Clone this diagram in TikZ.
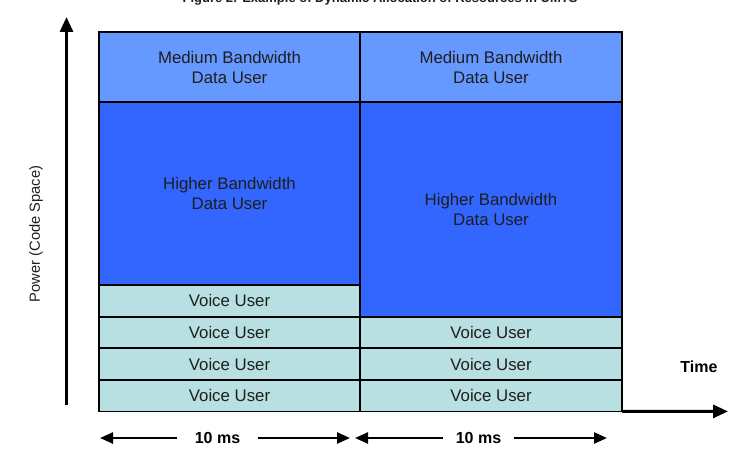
\documentclass[tikz,border=0pt]{standalone}
\usepackage{fontspec}
\setmainfont{Liberation Sans}
\usetikzlibrary{arrows.meta}
\definecolor{medblue}{HTML}{6699FF}
\definecolor{hiblue}{HTML}{3366FF}
\definecolor{voicecol}{HTML}{B8DFE1}
\definecolor{txt}{HTML}{1E1E1E}
\begin{document}
\begin{tikzpicture}[x=1pt,y=-1pt,
  cell/.style={draw=black, line width=1.8pt, inner sep=0pt, align=center,
    text=txt, font=\fontsize{16.8}{20}\selectfont, minimum width=#1},
  cell/.default=261,
  med/.style={fill=medblue, minimum height=70},
  hi/.style={fill=hiblue},
  voice/.style={fill=voicecol, minimum height=31.6},
  axis/.style={line width=3pt, -{Triangle[length=15pt,width=13pt]}},
  msarrow/.style={line width=2.4pt, -{Triangle[length=13pt,width=11pt]}},
  lbl/.style={font=\bfseries\fontsize{16}{19}\selectfont, text=black},
  mslbl/.style={lbl, inner ysep=0pt, inner xsep=#1},
]
\useasboundingbox (0,0) rectangle (751,468);
% partially visible title
\node[anchor=base, font=\bfseries\fontsize{13}{15}\selectfont, text=txt, inner sep=0pt] (title) at (380,3)
  {Figure 2: Example of Dynamic Allocation of Resources in UMTS};
% left column
\node[cell, med] (L1) at (229.5,67) {Medium Bandwidth\\Data User};
\node[cell, hi, minimum height=183] (L2) at (229.5,193.5) {Higher Bandwidth\\Data User};
\node[cell, voice] (L3) at (229.5,300.8) {Voice User};
\node[cell, voice] (L4) at (229.5,332.4) {Voice User};
\node[cell, voice] (L5) at (229.5,364.0) {Voice User};
\node[cell, voice] (L6) at (229.5,395.6) {Voice User};
% right column
\node[cell=262, med] (R1) at (491,67) {Medium Bandwidth\\Data User};
\node[cell=262, hi, minimum height=214.6] (R2) at (491,209.3) {Higher Bandwidth\\Data User};
\node[cell=262, voice] (R4) at (491,332.4) {Voice User};
\node[cell=262, voice] (R5) at (491,364.0) {Voice User};
\node[cell=262, voice] (R6) at (491,395.6) {Voice User};
% axes
\coordinate (ybot) at (66.5,405);
\coordinate (ytop) at (66.5,17);
\coordinate (xend) at (728,411.4);
\draw[axis] (ybot) -- (ytop);
\path (R6.south east) ++(-0.9,-0.9) coordinate (xstart);
\draw[axis] (xstart) -- (xend);
\node[font=\fontsize{14.7}{17}\selectfont, text=txt, rotate=90] (power) at (36,234) {Power (Code Space)};
\node[lbl] (time) at (699,367) {Time};
% 10 ms arrows
\node[mslbl=18pt] (ms1) at (217.5,438) {10 ms};
\coordinate (a1l) at (100,438);
\coordinate (a1r) at (350,438);
\draw[msarrow] (ms1.west) -- (a1l);
\draw[msarrow] (ms1.east) -- (a1r);
\node[mslbl=13pt] (ms2) at (478.5,438) {10 ms};
\coordinate (a2l) at (355,438);
\coordinate (a2r) at (607,438);
\draw[msarrow] (ms2.west) -- (a2l);
\draw[msarrow] (ms2.east) -- (a2r);
\end{tikzpicture}
\end{document}
